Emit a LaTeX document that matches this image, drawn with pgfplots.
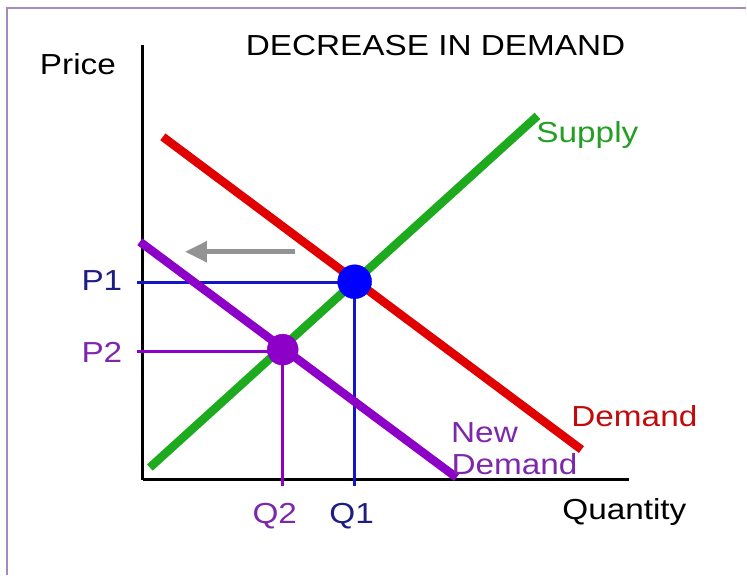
\documentclass[border=0pt]{standalone}
\usepackage{pgfplots}
\pgfplotsset{compat=1.18}
\usepackage{graphicx}
\usepackage{fontspec}
\setmainfont{Liberation Sans}
\usetikzlibrary{arrows.meta}
\definecolor{sgreen}{RGB}{30,170,30}
\definecolor{dred}{RGB}{225,0,0}
\definecolor{npurple}{RGB}{140,0,200}
\definecolor{lblue}{RGB}{20,20,200}
\definecolor{tblue}{RGB}{30,30,130}
\definecolor{tpurple}{RGB}{125,40,170}
\definecolor{tgreen}{RGB}{35,160,35}
\definecolor{tred}{RGB}{195,10,10}
\definecolor{framec}{RGB}{160,140,190}
\newcommand\T[1]{\scalebox{1.15}[1]{\fontsize{29}{31}\selectfont #1}}
\begin{document}
\begin{tikzpicture}
\begin{axis}[
  x=1pt, y=1pt,
  xmin=0, xmax=487, ymin=0, ymax=435,
  axis lines=left,
  axis line style={-, line width=3pt, black},
  xtick=\empty, ytick=\empty,
  clip=false,
]
% page extent and frame
\path (axis cs:-143,-96) rectangle (axis cs:604,480);
\draw[framec, line width=1.5pt] (axis cs:-136,-96) -- (axis cs:-136,472) -- (axis cs:604,472);
% guide lines
\addplot[lblue, line width=2.5pt] coordinates {(-6,197) (212,197) (212,-6)};
\addplot[npurple, line width=2.5pt] coordinates {(-6,128) (140,128) (140,-6)};
% curves
\addplot[sgreen, line width=8.5pt] coordinates {(7,12) (395,364)};
\addplot[dred, line width=8.5pt] coordinates {(20,343) (439,30)};
\addplot[npurple, line width=8.5pt] coordinates {(-3,238) (314,2)};
% shift arrow
\addplot[gray!85, line width=5pt, -{Triangle[length=22pt,width=20pt]}] coordinates {(152,228) (42,228)};
% equilibria
\addplot[only marks, mark=*, mark size=17pt, color=blue] coordinates {(212,198)};
\addplot[only marks, mark=*, mark size=15.5pt, color=npurple] coordinates {(140,130)};
% texts
\node[anchor=base] at (axis cs:293,424) {\T{DECREASE IN DEMAND}};
\node[anchor=base] at (axis cs:-65,405) {\T{Price}};
\node[anchor=base, text=tblue] at (axis cs:-41,189) {\T{P1}};
\node[anchor=base, text=tpurple] at (axis cs:-41,117) {\T{P2}};
\node[anchor=base, text=tpurple] at (axis cs:132,-44) {\T{Q2}};
\node[anchor=base, text=tblue] at (axis cs:209,-44) {\T{Q1}};
\node[anchor=base] at (axis cs:482,-40) {\T{Quantity}};
\node[anchor=base, text=tgreen] at (axis cs:445,337) {\T{Supply}};
\node[anchor=base, text=tred] at (axis cs:492,53) {\T{Demand}};
\node[anchor=base, text=tpurple] at (axis cs:342,37) {\T{New}};
\node[anchor=base, text=tpurple] at (axis cs:372,5) {\T{Demand}};
\end{axis}
\end{tikzpicture}
\end{document}
